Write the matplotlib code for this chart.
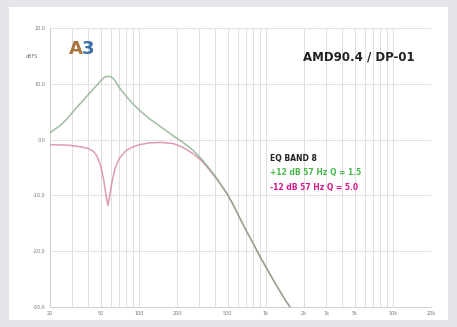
import matplotlib.pyplot as plt
from matplotlib.patches import Rectangle
from matplotlib.ticker import FixedLocator, NullFormatter

# Frequency response (Hz, dB)
boost_freq = [20, 24, 27.2, 32, 36.4, 42, 47, 52, 55, 60, 64, 71, 80, 90, 102,
              122, 147, 186, 223, 267, 310, 360, 413, 495, 552, 686, 800, 902,
              1162, 1400, 1553]
boost_db = [1.25, 2.5, 3.7, 5.6, 7.0, 8.6, 9.8, 10.9, 11.3, 11.3, 10.8, 9.2,
            7.7, 6.4, 5.2, 3.7, 2.4, 0.7, -0.5, -1.9, -3.4, -5.2, -7.0, -9.7,
            -11.6, -15.9, -18.7, -21.0, -25.4, -28.5, -30.0]

cut_freq = [20, 28, 35, 40, 44, 47, 50, 53, 55.5, 57.2, 59, 61.8, 65, 70, 80,
            90, 102, 120, 150, 186, 223, 267, 310, 360, 413, 495, 552, 686,
            800, 902, 1162, 1400, 1553]
cut_db = [-0.9, -1.0, -1.3, -1.6, -2.1, -3.0, -4.6, -7.3, -10.3, -11.8, -10.0,
          -7.4, -5.2, -3.4, -1.9, -1.3, -0.9, -0.6, -0.5, -0.7, -1.4, -2.5,
          -3.7, -5.4, -7.1, -9.7, -11.6, -15.9, -18.7, -21.0, -25.4, -28.5,
          -30.0]

x_ticks = [20, 50, 100, 200, 500, 1000, 2000, 3000, 5000, 10000, 20000]
x_labels = ["20", "50", "100", "200", "500", "1k", "2k", "3k", "5k", "10k", "20k"]
y_ticks = [20, 10, 0, -10, -20, -30]
y_labels = ["20.0", "10.0", "0.0", "-10.0", "-20.0", "-30.0"]

title = "AMD90.4 / DP-01"
band_label = "EQ BAND 8"
boost_label = "+12 dB 57 Hz Q = 1.5"
cut_label = "-12 dB 57 Hz Q = 5.0"

W, H = 457, 327
fig = plt.figure(figsize=(W / 100, H / 100), dpi=100)
fig.patch.set_facecolor("#e4e6e9")
fig.add_artist(Rectangle((9 / W, 7 / H), (W - 18) / W, (H - 14) / H,
                         transform=fig.transFigure, facecolor="white",
                         edgecolor="none", zorder=0))

ax = fig.add_axes([50 / W, 20 / H, 381 / W, 279 / H])
ax.set_facecolor("white")
ax.set_xscale("log")
ax.set_xlim(20, 20000)
ax.set_ylim(-30, 20)

# grid: every decade step vertically, every 10 dB horizontally
minor = [m * 10 ** e for e in range(1, 5) for m in range(1, 10)]
minor = [f for f in minor if 20 <= f <= 20000]
ax.xaxis.set_minor_locator(FixedLocator(minor))
ax.xaxis.set_minor_formatter(NullFormatter())
ax.set_xticks(x_ticks)
ax.set_xticklabels(x_labels)
ax.set_yticks(y_ticks)
ax.set_yticklabels(y_labels)
ax.grid(True, which="both", axis="x", color="#dedede", lw=0.7)
ax.grid(True, which="major", axis="y", color="#e2e2e2", lw=0.7)
ax.tick_params(which="both", length=0, labelsize=3.5, colors="#777777", pad=3)
for side in ["top", "right"]:
    ax.spines[side].set_visible(False)
for side in ["left", "bottom"]:
    ax.spines[side].set_color("#d0d0d0")
    ax.spines[side].set_linewidth(0.7)

ax.plot(cut_freq, cut_db, color="#d27a9c", lw=1.1, alpha=0.75, zorder=3)
ax.plot(boost_freq, boost_db, color="#7fa87f", lw=1.1, alpha=0.75, zorder=4)

# unit label and logo
fig.text(32 / W, 1 - 56 / H, "dBFS", fontsize=3.5, color="#777777",
         ha="center", va="center")
fig.text(83 / W, 1 - 49 / H, "A", fontsize=13, fontweight="bold",
         color="#a8733c", ha="right", va="center")
fig.text(82 / W, 1 - 49 / H, "3", fontsize=13, fontweight="bold",
         color="#3d6fa6", ha="left", va="center")

fig.text(359 / W, 1 - 57 / H, title, fontsize=8.5, fontweight="bold",
         color="#222222", ha="center", va="center")

fig.text(270 / W, 1 - 158 / H, band_label, fontsize=5.5, fontweight="bold",
         color="#222222", ha="left", va="center")
fig.text(270 / W, 1 - 172 / H, boost_label, fontsize=5.5, fontweight="bold",
         color="#4cb84c", ha="left", va="center")
fig.text(270 / W, 1 - 187 / H, cut_label, fontsize=5.5, fontweight="bold",
         color="#d4198c", ha="left", va="center")

fig.savefig("out.png", dpi=100, facecolor=fig.get_facecolor())
